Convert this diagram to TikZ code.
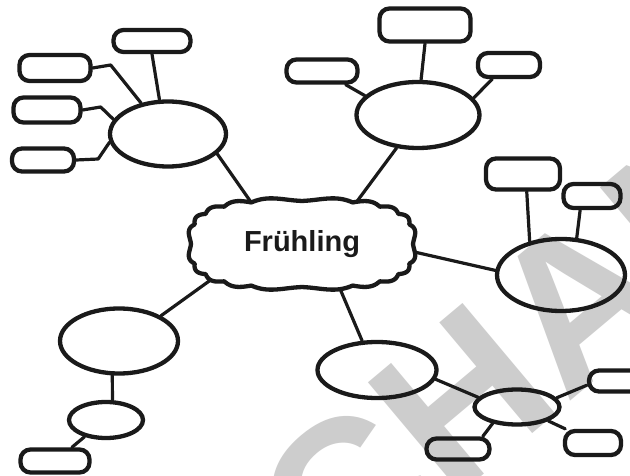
\documentclass[tikz,border=0pt]{standalone}
\usepackage{fontspec}
\newfontfamily\lsans{Liberation Sans}
\usetikzlibrary{shapes.geometric}
\definecolor{ink}{RGB}{26,26,26}
\definecolor{wm}{RGB}{205,205,205}
\tikzset{
  shp/.style={draw=ink, line width=4.3pt},
  ell/.style={shp, ellipse, inner sep=0pt},
  pill/.style={shp, rectangle, rounded corners=10pt, inner sep=0pt},
  sz/.style 2 args={minimum width=#1pt, minimum height=#2pt},
  link/.style={draw=ink, line width=3.2pt, line cap=round, line join=round},
  wmark/.style={text=wm, inner sep=0pt, font=\lsans\bfseries\fontsize{210}{210}\selectfont},
  title/.style={text=ink, inner sep=0pt, font=\lsans\bfseries\fontsize{29}{29}\selectfont}
}
\begin{document}
\begin{tikzpicture}[x=1pt,y=-1pt]
\useasboundingbox (0,0) rectangle (630,476);
\clip (0,0) rectangle (630,476);
\fill[white] (0,0) rectangle (630,476);
% watermark
\node[wmark, rotate=40, anchor=base west] (wmk) at (334,600) {CHAN};
% centre (anchor ellipse for connectors; outline drawn below)
\node[ellipse, inner sep=0pt, sz={226}{90}] (cl) at (302,244) {};
% cluster top-left
\node[ell, sz={116}{65}] (e1) at (168,134) {};
\node[pill, sz={77}{22}] (b1a) at (152,41) {};
\node[pill, sz={71}{26}] (b1b) at (55,68) {};
\node[pill, sz={67}{25}] (b1c) at (47,110) {};
\node[pill, sz={62}{23}] (b1d) at (43,160) {};
% cluster top
\node[ell, sz={123}{66}] (e2) at (418,115) {};
\node[pill, sz={91}{33}] (b2a) at (425,25) {};
\node[pill, sz={71}{23}] (b2b) at (322,71) {};
\node[pill, sz={62}{24}] (b2c) at (509,65) {};
% cluster right
\node[ell, sz={128}{72}] (e3) at (561,275) {};
\node[pill, sz={74}{31}] (b3a) at (523,174) {};
\node[pill, sz={57}{24}] (b3b) at (592,196) {};
% cluster bottom right
\node[ell, sz={119}{56}] (e4) at (377,370) {};
\node[ell, sz={85}{35}] (e5) at (517,407) {};
\node[pill, sz={63}{21}] (b5a) at (458,449) {};
\node[pill, sz={56}{24}] (b5b) at (593,443) {};
\node[pill, sz={56}{21}] (b5c) at (617,381) {};
% cluster bottom left
\node[ell, sz={118}{65}] (e6) at (119,341) {};
\node[ell, sz={74}{36}] (e7) at (106,420) {};
\node[pill, sz={69}{23}] (b7) at (55,461) {};
% connectors
\draw[link] (e1.-22) -- (cl.141);
\draw[link] (b1a.south) -- (e1.104);
\draw[link] (b1b.east) -- ++(18,-3) -- (e1.131);
\draw[link] (b1c.east) -- ++(18,-3) -- (e1.165);
\draw[link] (b1d.east) -- ++(22,-1) -- (e1.188);
\draw[link] (b2a.south) -- (e2.85);
\draw[link] (b2b.-30) -- (e2.160);
\draw[link] (b2c.220) -- (e2.17);
\draw[link] (e2.237) -- (cl.37);
\draw[link] (cl.-4) -- (e3.176);
\draw[link] (b3a.-78) -- (e3.133);
\draw[link] (b3b.230) -- (e3.67);
\draw[link] (cl.-49) -- (e4.117);
\draw[link] (e4.-9) -- (e5.166);
\draw[link] (e5.214) -- (b5a.27);
\draw[link] (e5.-24) -- (b5b.153);
\draw[link] (e5.13) -- (b5c.188);
\draw[link] (cl.200) -- (e6.31);
\draw[link] (e6.259) -- (e7.72);
\draw[link] (e7.218) -- (b7.39);
% cloud outline
\draw[shp, fill=white, line join=round]
  plot[domain=0:360, samples=361, variable=\t]
  ({302 + (111 + 3*abs(sin(10*\t)))*cos(\t)*(abs(cos(\t))+0.001)^(-0.333)},
   {244 + (43 + 3*abs(sin(10*\t)))*sin(\t)*(abs(sin(\t))+0.001)^(-0.333)}) -- cycle;
\node[title] (ttl) at (cl.center) {Frühling};
\end{tikzpicture}
\end{document}
